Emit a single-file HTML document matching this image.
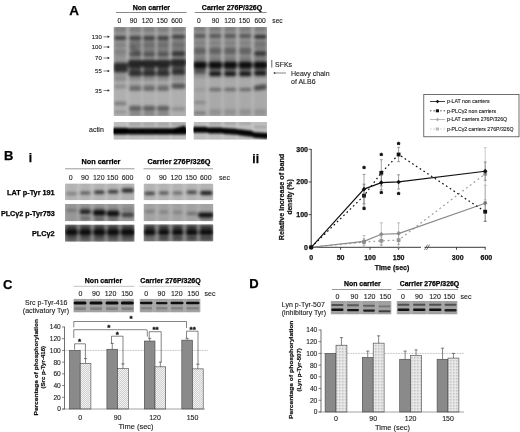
<!DOCTYPE html>
<html><head><meta charset="utf-8"><title>Figure</title>
<style>
html,body{margin:0;padding:0;background:#fff;}
svg{display:block;font-family:"Liberation Sans",sans-serif;}
</style></head><body>
<svg width="520" height="432" viewBox="0 0 520 432">
<defs>
<filter id="b1" x="-5%" y="-20%" width="110%" height="140%"><feGaussianBlur stdDeviation="1.4"/></filter>
<filter id="b2" x="-5%" y="-20%" width="110%" height="140%"><feGaussianBlur stdDeviation="0.9"/></filter>
<filter id="b3" x="-5%" y="-20%" width="110%" height="140%"><feGaussianBlur stdDeviation="0.55"/></filter>
<filter id="tb"><feGaussianBlur stdDeviation="0.25"/></filter>
<pattern id="hatch" width="2" height="2" patternUnits="userSpaceOnUse"><rect width="2" height="2" fill="#f2f2f2"/><path d="M-0.5,2.5 L2.5,-0.5" stroke="#999" stroke-width="0.4"/></pattern>
<pattern id="dots" width="1.5" height="1.5" patternUnits="userSpaceOnUse"><rect width="1.5" height="1.5" fill="#ebebeb"/><rect width="0.6" height="0.6" fill="#999"/></pattern>
</defs>
<rect width="520" height="432" fill="#fff"/>

<text x="69.3" y="14.5" font-size="13.5" font-weight="bold" text-anchor="start" fill="#000" stroke="#000" stroke-width="0.25">A</text>
<text x="151.4" y="9.5" font-size="7" font-weight="bold" text-anchor="middle" fill="#000" stroke="#000" stroke-width="0.25">Non carrier</text>
<text x="232" y="9.5" font-size="7" font-weight="bold" text-anchor="middle" fill="#000" stroke="#000" stroke-width="0.25">Carrier 276P/326Q</text>
<line x1="116" y1="12.5" x2="186.5" y2="12.5" stroke="#555" stroke-width="0.7"/>
<line x1="194.8" y1="12.5" x2="266.5" y2="12.5" stroke="#555" stroke-width="0.7"/>
<text x="119.4" y="22.7" font-size="6.7" text-anchor="middle" fill="#222" stroke="#222" stroke-width="0.12">0</text>
<text x="133.6" y="22.7" font-size="6.7" text-anchor="middle" fill="#222" stroke="#222" stroke-width="0.12">90</text>
<text x="147.4" y="22.7" font-size="6.7" text-anchor="middle" fill="#222" stroke="#222" stroke-width="0.12">120</text>
<text x="162.1" y="22.7" font-size="6.7" text-anchor="middle" fill="#222" stroke="#222" stroke-width="0.12">150</text>
<text x="176.9" y="22.7" font-size="6.7" text-anchor="middle" fill="#222" stroke="#222" stroke-width="0.12">600</text>
<text x="198.8" y="22.7" font-size="6.7" text-anchor="middle" fill="#222" stroke="#222" stroke-width="0.12">0</text>
<text x="215.5" y="22.7" font-size="6.7" text-anchor="middle" fill="#222" stroke="#222" stroke-width="0.12">90</text>
<text x="229.8" y="22.7" font-size="6.7" text-anchor="middle" fill="#222" stroke="#222" stroke-width="0.12">120</text>
<text x="244.4" y="22.7" font-size="6.7" text-anchor="middle" fill="#222" stroke="#222" stroke-width="0.12">150</text>
<text x="260.2" y="22.7" font-size="6.7" text-anchor="middle" fill="#222" stroke="#222" stroke-width="0.12">600</text>
<text x="272.3" y="22.7" font-size="6.7" text-anchor="start" fill="#222" stroke="#222" stroke-width="0.12">sec</text>
<text x="101.8" y="38.9" font-size="6" text-anchor="end" fill="#222" stroke="#222" stroke-width="0.12">130</text>
<line x1="103.5" y1="36.8" x2="108.5" y2="36.8" stroke="#333" stroke-width="0.6"/>
<path d="M109.8,36.8 l-2.2,-1.2 v2.4z" fill="#222"/>
<text x="101.8" y="49.1" font-size="6" text-anchor="end" fill="#222" stroke="#222" stroke-width="0.12">100</text>
<line x1="103.5" y1="47" x2="108.5" y2="47" stroke="#333" stroke-width="0.6"/>
<path d="M109.8,47 l-2.2,-1.2 v2.4z" fill="#222"/>
<text x="101.8" y="60.1" font-size="6" text-anchor="end" fill="#222" stroke="#222" stroke-width="0.12">70</text>
<line x1="103.5" y1="58" x2="108.5" y2="58" stroke="#333" stroke-width="0.6"/>
<path d="M109.8,58 l-2.2,-1.2 v2.4z" fill="#222"/>
<text x="101.8" y="73.1" font-size="6" text-anchor="end" fill="#222" stroke="#222" stroke-width="0.12">55</text>
<line x1="103.5" y1="71" x2="108.5" y2="71" stroke="#333" stroke-width="0.6"/>
<path d="M109.8,71 l-2.2,-1.2 v2.4z" fill="#222"/>
<text x="101.8" y="92.6" font-size="6" text-anchor="end" fill="#222" stroke="#222" stroke-width="0.12">35</text>
<line x1="103.5" y1="90.5" x2="108.5" y2="90.5" stroke="#333" stroke-width="0.6"/>
<path d="M109.8,90.5 l-2.2,-1.2 v2.4z" fill="#222"/>
<clipPath id="c1"><rect x="113.5" y="27" width="72.5" height="89"/></clipPath>
<g clip-path="url(#c1)">
<rect x="113.50" y="27.00" width="72.50" height="89.00" fill="#bcbcbc"/>
<g filter="url(#b1)">
<rect x="114.00" y="24.00" width="12.60" height="56.00" fill="#000" opacity="0.22"/>
<rect x="114.00" y="80.00" width="12.60" height="39.00" fill="#000" opacity="0.07"/>
<rect x="129.00" y="24.00" width="12.50" height="56.00" fill="#000" opacity="0.22"/>
<rect x="129.00" y="80.00" width="12.50" height="39.00" fill="#000" opacity="0.07"/>
<rect x="143.00" y="24.00" width="12.40" height="56.00" fill="#000" opacity="0.22"/>
<rect x="143.00" y="80.00" width="12.40" height="39.00" fill="#000" opacity="0.07"/>
<rect x="157.00" y="24.00" width="12.30" height="56.00" fill="#000" opacity="0.22"/>
<rect x="157.00" y="80.00" width="12.30" height="39.00" fill="#000" opacity="0.07"/>
<rect x="171.50" y="24.00" width="14.00" height="56.00" fill="#000" opacity="0.22"/>
<rect x="171.50" y="80.00" width="14.00" height="39.00" fill="#000" opacity="0.07"/>
<rect x="114.00" y="28.00" width="12.60" height="3.00" rx="1.50" fill="#000" opacity="0.2"/>
<rect x="129.00" y="28.00" width="12.50" height="3.00" rx="1.50" fill="#000" opacity="0.2"/>
<rect x="143.00" y="28.00" width="12.40" height="3.00" rx="1.50" fill="#000" opacity="0.2"/>
<rect x="157.00" y="28.00" width="12.30" height="3.00" rx="1.50" fill="#000" opacity="0.2"/>
<rect x="171.50" y="28.00" width="14.00" height="3.00" rx="1.50" fill="#000" opacity="0.2"/>
<rect x="114.00" y="36.20" width="12.60" height="3.60" rx="1.80" fill="#000" opacity="0.62"/>
<rect x="129.00" y="36.20" width="12.50" height="3.60" rx="1.80" fill="#000" opacity="0.62"/>
<rect x="143.00" y="36.20" width="12.40" height="3.60" rx="1.80" fill="#000" opacity="0.62"/>
<rect x="157.00" y="36.20" width="12.30" height="3.60" rx="1.80" fill="#000" opacity="0.62"/>
<rect x="171.50" y="34.90" width="14.00" height="3.60" rx="1.80" fill="#000" opacity="0.62"/>
<rect x="129.00" y="40.00" width="12.50" height="14.00" rx="2.00" fill="#000" opacity="0.16"/>
<rect x="143.00" y="40.00" width="12.40" height="14.00" rx="2.00" fill="#000" opacity="0.16"/>
<rect x="157.00" y="40.00" width="12.30" height="14.00" rx="2.00" fill="#000" opacity="0.16"/>
<rect x="171.50" y="40.00" width="14.00" height="14.00" rx="2.00" fill="#000" opacity="0.16"/>
<rect x="129.00" y="47.50" width="12.50" height="5.00" rx="2.00" fill="#000" opacity="0.18" transform="rotate(40 135.25 50.00)"/>
<rect x="114.00" y="43.50" width="12.60" height="3.00" rx="1.50" fill="#000" opacity="0.15"/>
<rect x="129.00" y="43.50" width="12.50" height="3.00" rx="1.50" fill="#000" opacity="0.15"/>
<rect x="143.00" y="43.50" width="12.40" height="3.00" rx="1.50" fill="#000" opacity="0.15"/>
<rect x="157.00" y="43.50" width="12.30" height="3.00" rx="1.50" fill="#000" opacity="0.15"/>
<rect x="171.50" y="43.50" width="14.00" height="3.00" rx="1.50" fill="#000" opacity="0.15"/>
<rect x="129.00" y="52.25" width="12.50" height="4.50" rx="2.00" fill="#000" opacity="0.4"/>
<rect x="143.00" y="52.25" width="12.40" height="4.50" rx="2.00" fill="#000" opacity="0.4"/>
<rect x="157.00" y="52.25" width="12.30" height="4.50" rx="2.00" fill="#000" opacity="0.4"/>
<rect x="171.50" y="51.50" width="14.00" height="5.00" rx="2.00" fill="#000" opacity="0.6"/>
<rect x="114.00" y="49.50" width="12.60" height="5.00" rx="2.00" fill="#000" opacity="0.12"/>
<rect x="113.50" y="62.75" width="14.60" height="9.50" rx="2.00" fill="#000" opacity="0.7"/>
<rect x="128.00" y="59.75" width="14.90" height="7.50" rx="2.00" fill="#000" opacity="0.74"/>
<rect x="142.00" y="59.75" width="14.80" height="7.50" rx="2.00" fill="#000" opacity="0.74"/>
<rect x="156.00" y="59.75" width="14.70" height="7.50" rx="2.00" fill="#000" opacity="0.74"/>
<rect x="170.70" y="59.00" width="15.80" height="7.00" rx="2.00" fill="#000" opacity="0.74"/>
<rect x="128.50" y="70.75" width="13.50" height="5.50" rx="2.00" fill="#000" opacity="0.68"/>
<rect x="142.50" y="70.75" width="13.40" height="5.50" rx="2.00" fill="#000" opacity="0.68"/>
<rect x="156.50" y="70.75" width="13.30" height="5.50" rx="2.00" fill="#000" opacity="0.68"/>
<rect x="171.50" y="70.00" width="14.00" height="5.00" rx="2.00" fill="#000" opacity="0.65"/>
<rect x="129.00" y="66.00" width="12.50" height="5.00" rx="2.00" fill="#000" opacity="0.5"/>
<rect x="143.00" y="66.00" width="12.40" height="5.00" rx="2.00" fill="#000" opacity="0.5"/>
<rect x="157.00" y="66.00" width="12.30" height="5.00" rx="2.00" fill="#000" opacity="0.5"/>
<rect x="171.50" y="66.00" width="14.00" height="5.00" rx="2.00" fill="#000" opacity="0.5"/>
<rect x="114.00" y="84.50" width="12.60" height="4.00" rx="2.00" fill="#000" opacity="0.2"/>
<rect x="129.00" y="86.70" width="12.50" height="4.00" rx="2.00" fill="#000" opacity="0.42"/>
<rect x="143.00" y="86.70" width="12.40" height="4.00" rx="2.00" fill="#000" opacity="0.42"/>
<rect x="157.00" y="86.70" width="12.30" height="4.00" rx="2.00" fill="#000" opacity="0.42"/>
<rect x="129.00" y="84.00" width="12.50" height="3.00" rx="1.50" fill="#000" opacity="0.2"/>
<rect x="143.00" y="84.00" width="12.40" height="3.00" rx="1.50" fill="#000" opacity="0.2"/>
<rect x="157.00" y="84.00" width="12.30" height="3.00" rx="1.50" fill="#000" opacity="0.2"/>
<rect x="171.50" y="83.25" width="14.00" height="5.50" rx="2.00" fill="#000" opacity="0.5"/>
<rect x="114.00" y="78.50" width="12.60" height="3.00" rx="1.50" fill="#000" opacity="0.12"/>
<rect x="129.00" y="78.50" width="12.50" height="3.00" rx="1.50" fill="#000" opacity="0.12"/>
<rect x="143.00" y="78.50" width="12.40" height="3.00" rx="1.50" fill="#000" opacity="0.12"/>
<rect x="157.00" y="78.50" width="12.30" height="3.00" rx="1.50" fill="#000" opacity="0.12"/>
<rect x="171.50" y="78.50" width="14.00" height="3.00" rx="1.50" fill="#000" opacity="0.12"/>
<rect x="114.00" y="101.75" width="12.60" height="3.50" rx="1.75" fill="#000" opacity="0.3"/>
<rect x="114.00" y="110.75" width="12.60" height="2.50" rx="1.25" fill="#000" opacity="0.2"/>
<rect x="129.00" y="105.75" width="12.50" height="5.50" rx="2.00" fill="#000" opacity="0.45"/>
<rect x="143.00" y="105.75" width="12.40" height="5.50" rx="2.00" fill="#000" opacity="0.45"/>
<rect x="157.00" y="105.75" width="12.30" height="5.50" rx="2.00" fill="#000" opacity="0.45"/>
<rect x="129.00" y="112.75" width="12.50" height="2.50" rx="1.25" fill="#000" opacity="0.35"/>
<rect x="143.00" y="112.75" width="12.40" height="2.50" rx="1.25" fill="#000" opacity="0.35"/>
<rect x="157.00" y="112.75" width="12.30" height="2.50" rx="1.25" fill="#000" opacity="0.35"/>
<rect x="171.50" y="107.00" width="14.00" height="4.00" rx="2.00" fill="#000" opacity="0.18"/>

</g></g>
<clipPath id="c2"><rect x="193.5" y="27" width="73.5" height="89"/></clipPath>
<g clip-path="url(#c2)">
<rect x="193.50" y="27.00" width="73.50" height="89.00" fill="#b6b6b6"/>
<g filter="url(#b1)">
<rect x="193.80" y="24.00" width="12.20" height="54.00" fill="#000" opacity="0.2"/>
<rect x="193.80" y="78.00" width="12.20" height="41.00" fill="#000" opacity="0.07"/>
<rect x="209.00" y="24.00" width="12.50" height="54.00" fill="#000" opacity="0.2"/>
<rect x="209.00" y="78.00" width="12.50" height="41.00" fill="#000" opacity="0.07"/>
<rect x="224.00" y="24.00" width="12.30" height="54.00" fill="#000" opacity="0.2"/>
<rect x="224.00" y="78.00" width="12.30" height="41.00" fill="#000" opacity="0.07"/>
<rect x="239.00" y="24.00" width="12.50" height="54.00" fill="#000" opacity="0.2"/>
<rect x="239.00" y="78.00" width="12.50" height="41.00" fill="#000" opacity="0.07"/>
<rect x="254.00" y="24.00" width="12.70" height="54.00" fill="#000" opacity="0.2"/>
<rect x="254.00" y="78.00" width="12.70" height="41.00" fill="#000" opacity="0.07"/>
<rect x="193.80" y="27.50" width="12.20" height="3.00" rx="1.50" fill="#000" opacity="0.2"/>
<rect x="209.00" y="27.50" width="12.50" height="3.00" rx="1.50" fill="#000" opacity="0.2"/>
<rect x="224.00" y="27.50" width="12.30" height="3.00" rx="1.50" fill="#000" opacity="0.2"/>
<rect x="239.00" y="27.50" width="12.50" height="3.00" rx="1.50" fill="#000" opacity="0.2"/>
<rect x="254.00" y="27.50" width="12.70" height="3.00" rx="1.50" fill="#000" opacity="0.2"/>
<rect x="193.80" y="34.30" width="12.20" height="3.40" rx="1.70" fill="#000" opacity="0.45"/>
<rect x="209.00" y="34.30" width="12.50" height="3.40" rx="1.70" fill="#000" opacity="0.45"/>
<rect x="224.00" y="34.30" width="12.30" height="3.40" rx="1.70" fill="#000" opacity="0.45"/>
<rect x="239.00" y="34.30" width="12.50" height="3.40" rx="1.70" fill="#000" opacity="0.45"/>
<rect x="254.00" y="34.90" width="12.70" height="3.60" rx="1.80" fill="#000" opacity="0.7"/>
<rect x="193.80" y="41.50" width="12.20" height="3.00" rx="1.50" fill="#000" opacity="0.15"/>
<rect x="209.00" y="41.50" width="12.50" height="3.00" rx="1.50" fill="#000" opacity="0.15"/>
<rect x="224.00" y="41.50" width="12.30" height="3.00" rx="1.50" fill="#000" opacity="0.15"/>
<rect x="239.00" y="41.50" width="12.50" height="3.00" rx="1.50" fill="#000" opacity="0.15"/>
<rect x="254.00" y="41.50" width="12.70" height="3.00" rx="1.50" fill="#000" opacity="0.15"/>
<rect x="193.80" y="47.50" width="12.20" height="7.00" rx="2.00" fill="#000" opacity="0.32"/>
<rect x="209.00" y="47.50" width="12.50" height="7.00" rx="2.00" fill="#000" opacity="0.32"/>
<rect x="224.00" y="47.50" width="12.30" height="7.00" rx="2.00" fill="#000" opacity="0.32"/>
<rect x="239.00" y="47.50" width="12.50" height="7.00" rx="2.00" fill="#000" opacity="0.32"/>
<rect x="254.00" y="51.25" width="12.70" height="4.50" rx="2.00" fill="#000" opacity="0.65"/>
<rect x="254.00" y="42.00" width="12.70" height="8.00" rx="2.00" fill="#000" opacity="0.15"/>
<rect x="193.30" y="61.50" width="13.50" height="7.00" rx="2.00" fill="#000" opacity="0.9"/>
<rect x="208.50" y="61.50" width="13.80" height="7.00" rx="2.00" fill="#000" opacity="0.9"/>
<rect x="223.50" y="61.50" width="13.60" height="7.00" rx="2.00" fill="#000" opacity="0.9"/>
<rect x="238.50" y="61.50" width="13.80" height="7.00" rx="2.00" fill="#000" opacity="0.9"/>
<rect x="253.50" y="61.50" width="14.00" height="7.00" rx="2.00" fill="#000" opacity="0.9"/>
<rect x="193.80" y="70.60" width="12.20" height="2.80" rx="1.40" fill="#000" opacity="0.5"/>
<rect x="209.00" y="71.45" width="12.50" height="4.50" rx="2.00" fill="#000" opacity="0.85"/>
<rect x="224.00" y="71.45" width="12.30" height="4.50" rx="2.00" fill="#000" opacity="0.85"/>
<rect x="239.00" y="71.45" width="12.50" height="4.50" rx="2.00" fill="#000" opacity="0.85"/>
<rect x="254.00" y="70.95" width="12.70" height="4.50" rx="2.00" fill="#000" opacity="0.85"/>
<rect x="193.80" y="68.00" width="12.20" height="3.00" rx="1.50" fill="#000" opacity="0.3"/>
<rect x="209.00" y="68.00" width="12.50" height="3.00" rx="1.50" fill="#000" opacity="0.3"/>
<rect x="224.00" y="68.00" width="12.30" height="3.00" rx="1.50" fill="#000" opacity="0.3"/>
<rect x="239.00" y="68.00" width="12.50" height="3.00" rx="1.50" fill="#000" opacity="0.3"/>
<rect x="254.00" y="68.00" width="12.70" height="3.00" rx="1.50" fill="#000" opacity="0.3"/>
<rect x="193.80" y="57.00" width="12.20" height="3.00" rx="1.50" fill="#000" opacity="0.2"/>
<rect x="209.00" y="57.00" width="12.50" height="3.00" rx="1.50" fill="#000" opacity="0.2"/>
<rect x="224.00" y="57.00" width="12.30" height="3.00" rx="1.50" fill="#000" opacity="0.2"/>
<rect x="239.00" y="57.00" width="12.50" height="3.00" rx="1.50" fill="#000" opacity="0.2"/>
<rect x="254.00" y="57.00" width="12.70" height="3.00" rx="1.50" fill="#000" opacity="0.2"/>
<rect x="193.80" y="88.50" width="12.20" height="2.00" rx="1.00" fill="#000" opacity="0.15"/>
<rect x="209.00" y="87.90" width="12.50" height="3.20" rx="1.60" fill="#000" opacity="0.4"/>
<rect x="224.00" y="87.90" width="12.30" height="3.20" rx="1.60" fill="#000" opacity="0.4"/>
<rect x="239.00" y="87.90" width="12.50" height="3.20" rx="1.60" fill="#000" opacity="0.4"/>
<rect x="254.00" y="84.75" width="12.70" height="5.50" rx="2.00" fill="#000" opacity="0.55" transform="rotate(-8 260.35 87.50)"/>
<rect x="193.80" y="101.00" width="12.20" height="3.00" rx="1.50" fill="#000" opacity="0.2"/>
<rect x="193.80" y="111.75" width="12.20" height="2.50" rx="1.25" fill="#000" opacity="0.35"/>
<rect x="209.00" y="109.50" width="12.50" height="2.00" rx="1.00" fill="#000" opacity="0.2"/>
<rect x="224.00" y="109.50" width="12.30" height="2.00" rx="1.00" fill="#000" opacity="0.2"/>
<rect x="239.00" y="109.50" width="12.50" height="2.00" rx="1.00" fill="#000" opacity="0.2"/>
<rect x="254.00" y="109.50" width="12.70" height="2.00" rx="1.00" fill="#000" opacity="0.2"/>
<rect x="209.00" y="112.50" width="12.50" height="2.00" rx="1.00" fill="#000" opacity="0.22"/>
<rect x="224.00" y="112.50" width="12.30" height="2.00" rx="1.00" fill="#000" opacity="0.22"/>
<rect x="239.00" y="112.50" width="12.50" height="2.00" rx="1.00" fill="#000" opacity="0.22"/>
<rect x="254.00" y="112.50" width="12.70" height="2.00" rx="1.00" fill="#000" opacity="0.22"/>

</g></g>
<text x="89" y="132" font-size="7" text-anchor="start" fill="#222" stroke="#222" stroke-width="0.12">actin</text>
<clipPath id="c3"><rect x="113.5" y="122" width="72.5" height="17.69999999999999"/></clipPath>
<g clip-path="url(#c3)">
<rect x="113.50" y="122.00" width="72.50" height="17.70" fill="#c6c6c6"/>
<g filter="url(#b2)">
<rect x="114.00" y="119.00" width="12.60" height="23.70" fill="#000" opacity="0.05"/>
<rect x="129.00" y="119.00" width="12.50" height="23.70" fill="#000" opacity="0.05"/>
<rect x="143.00" y="119.00" width="12.40" height="23.70" fill="#000" opacity="0.05"/>
<rect x="157.00" y="119.00" width="12.30" height="23.70" fill="#000" opacity="0.05"/>
<rect x="171.50" y="119.00" width="14.00" height="23.70" fill="#000" opacity="0.05"/>
<rect x="112.00" y="128.15" width="16.60" height="6.30" rx="2.00" fill="#000" opacity="0.97"/>
<rect x="127.00" y="128.15" width="16.50" height="6.30" rx="2.00" fill="#000" opacity="0.97"/>
<rect x="141.00" y="128.15" width="16.40" height="6.30" rx="2.00" fill="#000" opacity="0.97"/>
<rect x="155.00" y="128.15" width="16.30" height="6.30" rx="2.00" fill="#000" opacity="0.97"/>
<rect x="169.50" y="128.15" width="18.00" height="6.30" rx="2.00" fill="#000" opacity="0.97"/>
<rect x="112.00" y="127.65" width="16.60" height="6.30" rx="2.00" fill="#000" opacity="0.9"/>
<rect x="173.50" y="126.85" width="13.00" height="5.50" rx="2.00" fill="#000" opacity="0.95" transform="rotate(-14 180.00 129.60)"/>
<rect x="129.00" y="123.80" width="12.50" height="0.80" rx="0.40" fill="#000" opacity="0.45"/>
<rect x="143.00" y="123.80" width="12.40" height="0.80" rx="0.40" fill="#000" opacity="0.45"/>
<rect x="157.00" y="123.80" width="12.30" height="0.80" rx="0.40" fill="#000" opacity="0.45"/>
<rect x="171.50" y="123.80" width="14.00" height="0.80" rx="0.40" fill="#000" opacity="0.45"/>

</g></g>
<clipPath id="c4"><rect x="193.5" y="122" width="73.5" height="17.69999999999999"/></clipPath>
<g clip-path="url(#c4)">
<rect x="193.50" y="122.00" width="73.50" height="17.70" fill="#c6c6c6"/>
<g filter="url(#b2)">
<rect x="193.80" y="119.00" width="12.20" height="23.70" fill="#000" opacity="0.05"/>
<rect x="209.00" y="119.00" width="12.50" height="23.70" fill="#000" opacity="0.05"/>
<rect x="224.00" y="119.00" width="12.30" height="23.70" fill="#000" opacity="0.05"/>
<rect x="239.00" y="119.00" width="12.50" height="23.70" fill="#000" opacity="0.05"/>
<rect x="254.00" y="119.00" width="12.70" height="23.70" fill="#000" opacity="0.05"/>
<rect x="191.80" y="126.70" width="16.20" height="6.00" rx="2.00" fill="#000" opacity="0.97"/>
<rect x="207.00" y="127.40" width="16.50" height="6.00" rx="2.00" fill="#000" opacity="0.97"/>
<rect x="222.00" y="128.40" width="16.30" height="6.00" rx="2.00" fill="#000" opacity="0.97" transform="rotate(4 230.15 131.40)"/>
<rect x="237.00" y="130.00" width="16.50" height="6.00" rx="2.00" fill="#000" opacity="0.97" transform="rotate(6 245.25 133.00)"/>
<rect x="252.00" y="132.60" width="16.70" height="5.60" rx="2.00" fill="#000" opacity="0.97" transform="rotate(4 260.35 135.40)"/>
<rect x="209.00" y="122.90" width="12.50" height="0.80" rx="0.40" fill="#000" opacity="0.35"/>
<rect x="224.00" y="122.90" width="12.30" height="0.80" rx="0.40" fill="#000" opacity="0.35"/>
<rect x="239.00" y="122.90" width="12.50" height="0.80" rx="0.40" fill="#000" opacity="0.35"/>
<rect x="254.00" y="126.60" width="12.70" height="0.80" rx="0.40" fill="#000" opacity="0.3"/>

</g></g>
<line x1="271.8" y1="60" x2="271.8" y2="67.5" stroke="#222" stroke-width="0.7"/>
<text x="275" y="66.5" font-size="7" text-anchor="start" fill="#222" stroke="#222" stroke-width="0.12">SFKs</text>
<line x1="274" y1="73" x2="286" y2="73" stroke="#333" stroke-width="0.6"/>
<path d="M273.2,73 l2,-1.1 v2.2z" fill="#222"/>
<text x="291" y="75.5" font-size="7" text-anchor="start" fill="#222" stroke="#222" stroke-width="0.12">Heavy chain</text>
<text x="291" y="84" font-size="7" text-anchor="start" fill="#222" stroke="#222" stroke-width="0.12">of ALB6</text>
<text x="4" y="159.7" font-size="13" font-weight="bold" text-anchor="start" fill="#000" stroke="#000" stroke-width="0.25">B</text>
<text x="28.7" y="161.5" font-size="12" font-weight="bold" text-anchor="start" fill="#000" stroke="#000" stroke-width="0.25">i</text>
<text x="252.3" y="162.7" font-size="12" font-weight="bold" text-anchor="start" fill="#000" stroke="#000" stroke-width="0.25">ii</text>
<text x="101" y="163.7" font-size="7.3" font-weight="bold" text-anchor="middle" fill="#000" stroke="#000" stroke-width="0.25">Non carrier</text>
<text x="179" y="163.7" font-size="7.3" font-weight="bold" text-anchor="middle" fill="#000" stroke="#000" stroke-width="0.25">Carrier 276P/326Q</text>
<line x1="65" y1="168.8" x2="134.5" y2="168.8" stroke="#555" stroke-width="0.6"/>
<line x1="143.5" y1="168.8" x2="213" y2="168.8" stroke="#555" stroke-width="0.6"/>
<text x="70.8" y="180" font-size="7" text-anchor="middle" fill="#222" stroke="#222" stroke-width="0.12">0</text>
<text x="85" y="180" font-size="7" text-anchor="middle" fill="#222" stroke="#222" stroke-width="0.12">90</text>
<text x="98.8" y="180" font-size="7" text-anchor="middle" fill="#222" stroke="#222" stroke-width="0.12">120</text>
<text x="112.5" y="180" font-size="7" text-anchor="middle" fill="#222" stroke="#222" stroke-width="0.12">150</text>
<text x="127.5" y="180" font-size="7" text-anchor="middle" fill="#222" stroke="#222" stroke-width="0.12">600</text>
<text x="148.5" y="180" font-size="7" text-anchor="middle" fill="#222" stroke="#222" stroke-width="0.12">0</text>
<text x="162.8" y="180" font-size="7" text-anchor="middle" fill="#222" stroke="#222" stroke-width="0.12">90</text>
<text x="176.3" y="180" font-size="7" text-anchor="middle" fill="#222" stroke="#222" stroke-width="0.12">120</text>
<text x="191" y="180" font-size="7" text-anchor="middle" fill="#222" stroke="#222" stroke-width="0.12">150</text>
<text x="205.8" y="180" font-size="7" text-anchor="middle" fill="#222" stroke="#222" stroke-width="0.12">600</text>
<text x="219" y="180" font-size="7" text-anchor="start" fill="#222" stroke="#222" stroke-width="0.12">sec</text>
<text x="54.7" y="195" font-size="7.3" font-weight="bold" text-anchor="end" fill="#000" stroke="#000" stroke-width="0.25">LAT p-Tyr 191</text>
<text x="54.7" y="215.5" font-size="7.2" font-weight="bold" text-anchor="end" fill="#000" stroke="#000" stroke-width="0.25">PLCγ2 p-Tyr753</text>
<text x="54.7" y="236.3" font-size="7.3" font-weight="bold" text-anchor="end" fill="#000" stroke="#000" stroke-width="0.25">PLCγ2</text>
<clipPath id="c5"><rect x="65" y="183.4" width="69.6" height="16.799999999999983"/></clipPath>
<g clip-path="url(#c5)">
<rect x="65.00" y="183.40" width="69.60" height="16.80" fill="#c2c2c2"/>
<g filter="url(#b1)">
<rect x="66.00" y="180.40" width="11.00" height="22.80" fill="#000" opacity="0.08"/>
<rect x="80.00" y="180.40" width="10.50" height="22.80" fill="#000" opacity="0.08"/>
<rect x="94.00" y="180.40" width="10.60" height="22.80" fill="#000" opacity="0.08"/>
<rect x="107.70" y="180.40" width="10.80" height="22.80" fill="#000" opacity="0.08"/>
<rect x="121.50" y="180.40" width="12.50" height="22.80" fill="#000" opacity="0.08"/>
<rect x="66.00" y="192.60" width="11.00" height="2.20" rx="1.10" fill="#000" opacity="0.4"/>
<rect x="80.00" y="191.70" width="10.50" height="2.60" rx="1.30" fill="#000" opacity="0.6"/>
<rect x="94.00" y="190.80" width="10.60" height="3.00" rx="1.50" fill="#000" opacity="0.8"/>
<rect x="107.70" y="190.30" width="10.80" height="3.00" rx="1.50" fill="#000" opacity="0.8"/>
<rect x="121.50" y="188.60" width="12.50" height="4.00" rx="2.00" fill="#000" opacity="0.8"/>

</g></g>
<clipPath id="c6"><rect x="143.5" y="183.6" width="69.9" height="16.700000000000017"/></clipPath>
<g clip-path="url(#c6)">
<rect x="143.50" y="183.60" width="69.90" height="16.70" fill="#c2c2c2"/>
<g filter="url(#b1)">
<rect x="144.50" y="180.60" width="10.50" height="22.70" fill="#000" opacity="0.08"/>
<rect x="158.80" y="180.60" width="10.00" height="22.70" fill="#000" opacity="0.08"/>
<rect x="172.60" y="180.60" width="10.00" height="22.70" fill="#000" opacity="0.08"/>
<rect x="186.50" y="180.60" width="10.50" height="22.70" fill="#000" opacity="0.08"/>
<rect x="200.00" y="180.60" width="12.60" height="22.70" fill="#000" opacity="0.08"/>
<rect x="144.50" y="192.00" width="10.50" height="2.80" rx="1.40" fill="#000" opacity="0.75"/>
<rect x="158.80" y="191.70" width="10.00" height="2.60" rx="1.30" fill="#000" opacity="0.65"/>
<rect x="172.60" y="191.80" width="10.00" height="2.40" rx="1.20" fill="#000" opacity="0.5"/>
<rect x="186.50" y="190.80" width="10.50" height="3.00" rx="1.50" fill="#000" opacity="0.7"/>
<rect x="200.00" y="191.00" width="12.60" height="4.00" rx="2.00" fill="#000" opacity="0.85"/>

</g></g>
<clipPath id="c7"><rect x="65" y="204" width="69.6" height="17.19999999999999"/></clipPath>
<g clip-path="url(#c7)">
<rect x="65.00" y="204.00" width="69.60" height="17.20" fill="#a8a8a8"/>
<g filter="url(#b1)">
<rect x="66.00" y="201.00" width="11.00" height="23.20" fill="#000" opacity="0.1"/>
<rect x="80.00" y="201.00" width="10.50" height="23.20" fill="#000" opacity="0.1"/>
<rect x="94.00" y="201.00" width="10.60" height="23.20" fill="#000" opacity="0.1"/>
<rect x="107.70" y="201.00" width="10.80" height="23.20" fill="#000" opacity="0.1"/>
<rect x="121.50" y="201.00" width="12.50" height="23.20" fill="#000" opacity="0.1"/>
<rect x="66.00" y="209.20" width="11.00" height="2.20" rx="1.10" fill="#000" opacity="0.3"/>
<rect x="79.50" y="209.55" width="11.50" height="4.50" rx="2.00" fill="#000" opacity="0.8"/>
<rect x="80.00" y="217.05" width="10.50" height="2.50" rx="1.25" fill="#000" opacity="0.4"/>
<rect x="93.00" y="209.80" width="12.60" height="6.00" rx="2.00" fill="#000" opacity="0.9"/>
<rect x="94.00" y="217.75" width="10.60" height="2.50" rx="1.25" fill="#000" opacity="0.5"/>
<rect x="106.70" y="210.60" width="12.80" height="6.00" rx="2.00" fill="#000" opacity="0.9"/>
<rect x="107.70" y="218.20" width="10.80" height="2.20" rx="1.10" fill="#000" opacity="0.45"/>
<rect x="121.50" y="212.45" width="12.50" height="4.50" rx="2.00" fill="#000" opacity="0.6"/>
<rect x="121.50" y="208.00" width="12.50" height="2.00" rx="1.00" fill="#000" opacity="0.2"/>
<rect x="80.00" y="207.00" width="10.50" height="2.00" rx="1.00" fill="#000" opacity="0.15"/>
<rect x="94.00" y="207.00" width="10.60" height="2.00" rx="1.00" fill="#000" opacity="0.15"/>
<rect x="107.70" y="207.00" width="10.80" height="2.00" rx="1.00" fill="#000" opacity="0.15"/>

</g></g>
<clipPath id="c8"><rect x="143.5" y="204" width="69.9" height="17.19999999999999"/></clipPath>
<g clip-path="url(#c8)">
<rect x="143.50" y="204.00" width="69.90" height="17.20" fill="#b0b0b0"/>
<g filter="url(#b1)">
<rect x="144.50" y="201.00" width="10.50" height="23.20" fill="#000" opacity="0.08"/>
<rect x="158.80" y="201.00" width="10.00" height="23.20" fill="#000" opacity="0.08"/>
<rect x="172.60" y="201.00" width="10.00" height="23.20" fill="#000" opacity="0.08"/>
<rect x="186.50" y="201.00" width="10.50" height="23.20" fill="#000" opacity="0.08"/>
<rect x="200.00" y="201.00" width="12.60" height="23.20" fill="#000" opacity="0.08"/>
<rect x="144.50" y="210.40" width="10.50" height="2.20" rx="1.10" fill="#000" opacity="0.35"/>
<rect x="158.80" y="210.90" width="10.00" height="2.20" rx="1.10" fill="#000" opacity="0.3"/>
<rect x="172.60" y="211.20" width="10.00" height="2.20" rx="1.10" fill="#000" opacity="0.28"/>
<rect x="186.50" y="212.30" width="10.50" height="2.40" rx="1.20" fill="#000" opacity="0.4"/>
<rect x="198.00" y="212.50" width="15.60" height="5.00" rx="2.00" fill="#000" opacity="0.9"/>
<rect x="200.00" y="218.50" width="12.60" height="2.00" rx="1.00" fill="#000" opacity="0.35"/>

</g></g>
<clipPath id="c9"><rect x="65" y="224.5" width="69.6" height="17.19999999999999"/></clipPath>
<g clip-path="url(#c9)">
<rect x="65.00" y="224.50" width="69.60" height="17.20" fill="#8e8e8e"/>
<g filter="url(#b1)">
<rect x="66.00" y="221.50" width="11.00" height="23.20" fill="#000" opacity="0.15"/>
<rect x="80.00" y="221.50" width="10.50" height="23.20" fill="#000" opacity="0.15"/>
<rect x="94.00" y="221.50" width="10.60" height="23.20" fill="#000" opacity="0.15"/>
<rect x="107.70" y="221.50" width="10.80" height="23.20" fill="#000" opacity="0.15"/>
<rect x="121.50" y="221.50" width="12.50" height="23.20" fill="#000" opacity="0.15"/>
<rect x="65.20" y="229.00" width="12.60" height="6.40" rx="2.00" fill="#000" opacity="0.9"/>
<rect x="79.20" y="229.00" width="12.10" height="6.40" rx="2.00" fill="#000" opacity="0.9"/>
<rect x="93.20" y="229.00" width="12.20" height="6.40" rx="2.00" fill="#000" opacity="0.9"/>
<rect x="106.90" y="229.00" width="12.40" height="6.40" rx="2.00" fill="#000" opacity="0.9"/>
<rect x="120.70" y="229.00" width="14.10" height="6.40" rx="2.00" fill="#000" opacity="0.9"/>
<rect x="66.00" y="226.10" width="11.00" height="2.20" rx="1.10" fill="#000" opacity="0.68"/>
<rect x="80.00" y="226.10" width="10.50" height="2.20" rx="1.10" fill="#000" opacity="0.68"/>
<rect x="94.00" y="226.10" width="10.60" height="2.20" rx="1.10" fill="#000" opacity="0.68"/>
<rect x="107.70" y="226.10" width="10.80" height="2.20" rx="1.10" fill="#000" opacity="0.68"/>
<rect x="121.50" y="226.10" width="12.50" height="2.20" rx="1.10" fill="#000" opacity="0.68"/>
<rect x="66.00" y="236.60" width="11.00" height="2.20" rx="1.10" fill="#000" opacity="0.5"/>
<rect x="80.00" y="236.60" width="10.50" height="2.20" rx="1.10" fill="#000" opacity="0.5"/>
<rect x="94.00" y="236.60" width="10.60" height="2.20" rx="1.10" fill="#000" opacity="0.5"/>
<rect x="107.70" y="236.60" width="10.80" height="2.20" rx="1.10" fill="#000" opacity="0.5"/>
<rect x="121.50" y="236.60" width="12.50" height="2.20" rx="1.10" fill="#000" opacity="0.5"/>
<rect x="66.00" y="239.55" width="11.00" height="1.50" rx="0.75" fill="#000" opacity="0.25"/>
<rect x="80.00" y="239.55" width="10.50" height="1.50" rx="0.75" fill="#000" opacity="0.25"/>
<rect x="94.00" y="239.55" width="10.60" height="1.50" rx="0.75" fill="#000" opacity="0.25"/>
<rect x="107.70" y="239.55" width="10.80" height="1.50" rx="0.75" fill="#000" opacity="0.25"/>
<rect x="121.50" y="239.55" width="12.50" height="1.50" rx="0.75" fill="#000" opacity="0.25"/>

</g></g>
<clipPath id="c10"><rect x="143.5" y="224.3" width="69.9" height="17.19999999999999"/></clipPath>
<g clip-path="url(#c10)">
<rect x="143.50" y="224.30" width="69.90" height="17.20" fill="#8e8e8e"/>
<g filter="url(#b1)">
<rect x="144.50" y="221.30" width="10.50" height="23.20" fill="#000" opacity="0.15"/>
<rect x="158.80" y="221.30" width="10.00" height="23.20" fill="#000" opacity="0.15"/>
<rect x="172.60" y="221.30" width="10.00" height="23.20" fill="#000" opacity="0.15"/>
<rect x="186.50" y="221.30" width="10.50" height="23.20" fill="#000" opacity="0.15"/>
<rect x="200.00" y="221.30" width="12.60" height="23.20" fill="#000" opacity="0.15"/>
<rect x="143.90" y="229.20" width="11.70" height="6.00" rx="2.00" fill="#000" opacity="0.9"/>
<rect x="158.20" y="229.20" width="11.20" height="6.00" rx="2.00" fill="#000" opacity="0.9"/>
<rect x="172.00" y="229.20" width="11.20" height="6.00" rx="2.00" fill="#000" opacity="0.9"/>
<rect x="185.90" y="229.20" width="11.70" height="6.00" rx="2.00" fill="#000" opacity="0.9"/>
<rect x="199.40" y="229.20" width="13.80" height="6.00" rx="2.00" fill="#000" opacity="0.9"/>
<rect x="144.50" y="226.00" width="10.50" height="2.40" rx="1.20" fill="#000" opacity="0.72"/>
<rect x="158.80" y="226.00" width="10.00" height="2.40" rx="1.20" fill="#000" opacity="0.72"/>
<rect x="172.60" y="226.00" width="10.00" height="2.40" rx="1.20" fill="#000" opacity="0.72"/>
<rect x="186.50" y="226.00" width="10.50" height="2.40" rx="1.20" fill="#000" opacity="0.72"/>
<rect x="200.00" y="226.00" width="12.60" height="2.40" rx="1.20" fill="#000" opacity="0.72"/>
<rect x="158.80" y="237.00" width="10.00" height="2.40" rx="1.20" fill="#000" opacity="0.62"/>
<rect x="172.60" y="237.00" width="10.00" height="2.40" rx="1.20" fill="#000" opacity="0.62"/>
<rect x="186.50" y="237.00" width="10.50" height="2.40" rx="1.20" fill="#000" opacity="0.62"/>
<rect x="200.00" y="237.00" width="12.60" height="2.40" rx="1.20" fill="#000" opacity="0.62"/>
<rect x="144.50" y="237.00" width="10.50" height="2.00" rx="1.00" fill="#000" opacity="0.25"/>

</g></g>
<line x1="311.2" y1="149" x2="311.2" y2="247.70000000000002" stroke="#222" stroke-width="0.9"/>
<line x1="310.8" y1="247.3" x2="421" y2="247.3" stroke="#222" stroke-width="0.9"/>
<line x1="424.5" y1="247.3" x2="485.6" y2="247.3" stroke="#222" stroke-width="0.9"/>
<line x1="424.5" y1="250" x2="427.5" y2="244.6" stroke="#222" stroke-width="0.6"/>
<line x1="426.5" y1="250" x2="429.5" y2="244.6" stroke="#222" stroke-width="0.6"/>
<line x1="308.7" y1="247.3" x2="311.2" y2="247.3" stroke="#222" stroke-width="0.8"/>
<text x="308.0" y="249.8" font-size="7" font-weight="bold" text-anchor="end" fill="#111" stroke="#111" stroke-width="0.25">0</text>
<line x1="308.7" y1="214.62" x2="311.2" y2="214.62" stroke="#222" stroke-width="0.8"/>
<text x="308.0" y="217.12" font-size="7" font-weight="bold" text-anchor="end" fill="#111" stroke="#111" stroke-width="0.25">100</text>
<line x1="308.7" y1="181.94" x2="311.2" y2="181.94" stroke="#222" stroke-width="0.8"/>
<text x="308.0" y="184.44" font-size="7" font-weight="bold" text-anchor="end" fill="#111" stroke="#111" stroke-width="0.25">200</text>
<line x1="308.7" y1="149.26000000000002" x2="311.2" y2="149.26000000000002" stroke="#222" stroke-width="0.8"/>
<text x="308.0" y="151.76000000000002" font-size="7" font-weight="bold" text-anchor="end" fill="#111" stroke="#111" stroke-width="0.25">300</text>
<line x1="311.2" y1="247.3" x2="311.2" y2="249.8" stroke="#222" stroke-width="0.8"/>
<text x="311.2" y="260.3" font-size="7" font-weight="bold" text-anchor="middle" fill="#111" stroke="#111" stroke-width="0.25">0</text>
<line x1="340.6" y1="247.3" x2="340.6" y2="249.8" stroke="#222" stroke-width="0.8"/>
<text x="340.6" y="260.3" font-size="7" font-weight="bold" text-anchor="middle" fill="#111" stroke="#111" stroke-width="0.25">50</text>
<line x1="370" y1="247.3" x2="370" y2="249.8" stroke="#222" stroke-width="0.8"/>
<text x="370" y="260.3" font-size="7" font-weight="bold" text-anchor="middle" fill="#111" stroke="#111" stroke-width="0.25">100</text>
<line x1="398.6" y1="247.3" x2="398.6" y2="249.8" stroke="#222" stroke-width="0.8"/>
<text x="398.6" y="260.3" font-size="7" font-weight="bold" text-anchor="middle" fill="#111" stroke="#111" stroke-width="0.25">150</text>
<line x1="456.5" y1="247.3" x2="456.5" y2="249.8" stroke="#222" stroke-width="0.8"/>
<text x="457.7" y="260.3" font-size="7" font-weight="bold" text-anchor="middle" fill="#111" stroke="#111" stroke-width="0.25">300</text>
<line x1="485.2" y1="247.3" x2="485.2" y2="249.8" stroke="#222" stroke-width="0.8"/>
<text x="486.4" y="260.3" font-size="7" font-weight="bold" text-anchor="middle" fill="#111" stroke="#111" stroke-width="0.25">600</text>
<text x="392" y="270.3" font-size="7" font-weight="bold" text-anchor="middle" fill="#111" stroke="#111" stroke-width="0.25">Time (sec)</text>
<text transform="translate(283.6,197) rotate(-90)" font-size="6.6" font-weight="bold" text-anchor="middle" fill="#111" stroke="#111" stroke-width="0.22" textLength="86.5" lengthAdjust="spacingAndGlyphs">Relative increase of band</text>
<text transform="translate(291.6,197) rotate(-90)" font-size="6.6" font-weight="bold" text-anchor="middle" fill="#111" stroke="#111" stroke-width="0.22">density (%)</text>
<polyline points="311.2,247.3 364.0,242.1 381.3,240.8 398.6,240.1 485.2,173.8" fill="none" stroke="#999" stroke-width="1.2" stroke-dasharray="1.8,3"/>
<rect x="309.30" y="245.40" width="3.80" height="3.80" fill="#999"/>
<line x1="364" y1="238.8032" x2="364" y2="245.3392" stroke="#999" stroke-width="0.5"/>
<line x1="362.5" y1="238.8032" x2="365.5" y2="238.8032" stroke="#999" stroke-width="0.5"/>
<line x1="362.5" y1="245.3392" x2="365.5" y2="245.3392" stroke="#999" stroke-width="0.5"/>
<rect x="362.10" y="240.17" width="3.80" height="3.80" fill="#999"/>
<line x1="381.3" y1="236.8424" x2="381.3" y2="244.68560000000002" stroke="#999" stroke-width="0.5"/>
<line x1="379.8" y1="236.8424" x2="382.8" y2="236.8424" stroke="#999" stroke-width="0.5"/>
<line x1="379.8" y1="244.68560000000002" x2="382.8" y2="244.68560000000002" stroke="#999" stroke-width="0.5"/>
<rect x="379.40" y="238.86" width="3.80" height="3.80" fill="#999"/>
<line x1="398.6" y1="231.9404" x2="398.6" y2="248.28040000000001" stroke="#999" stroke-width="0.5"/>
<line x1="397.1" y1="231.9404" x2="400.1" y2="231.9404" stroke="#999" stroke-width="0.5"/>
<line x1="397.1" y1="248.28040000000001" x2="400.1" y2="248.28040000000001" stroke="#999" stroke-width="0.5"/>
<rect x="396.70" y="238.21" width="3.80" height="3.80" fill="#999"/>
<line x1="485.2" y1="147.62600000000003" x2="485.2" y2="199.91400000000002" stroke="#999" stroke-width="0.5"/>
<line x1="483.7" y1="147.62600000000003" x2="486.7" y2="147.62600000000003" stroke="#999" stroke-width="0.5"/>
<line x1="483.7" y1="199.91400000000002" x2="486.7" y2="199.91400000000002" stroke="#999" stroke-width="0.5"/>
<rect x="483.30" y="171.87" width="3.80" height="3.80" fill="#999"/>
<polyline points="311.2,247.3 364.0,241.4 381.3,234.2 398.6,233.6 485.2,203.2" fill="none" stroke="#888" stroke-width="1.15"/>
<path d="M311.2,245.0 l2.3,2.3 l-2.3,2.3 l-2.3,-2.3z" fill="#888"/>
<line x1="364" y1="235.5352" x2="364" y2="247.3" stroke="#888" stroke-width="0.5"/>
<line x1="362.5" y1="235.5352" x2="365.5" y2="235.5352" stroke="#888" stroke-width="0.5"/>
<line x1="362.5" y1="247.3" x2="365.5" y2="247.3" stroke="#888" stroke-width="0.5"/>
<path d="M364,239.1176 l2.3,2.3 l-2.3,2.3 l-2.3,-2.3z" fill="#888"/>
<line x1="381.3" y1="222.79000000000002" x2="381.3" y2="245.66600000000003" stroke="#888" stroke-width="0.5"/>
<line x1="379.8" y1="222.79000000000002" x2="382.8" y2="222.79000000000002" stroke="#888" stroke-width="0.5"/>
<line x1="379.8" y1="245.66600000000003" x2="382.8" y2="245.66600000000003" stroke="#888" stroke-width="0.5"/>
<path d="M381.3,231.928 l2.3,2.3 l-2.3,2.3 l-2.3,-2.3z" fill="#888"/>
<line x1="398.6" y1="222.79000000000002" x2="398.6" y2="244.3588" stroke="#888" stroke-width="0.5"/>
<line x1="397.1" y1="222.79000000000002" x2="400.1" y2="222.79000000000002" stroke="#888" stroke-width="0.5"/>
<line x1="397.1" y1="244.3588" x2="400.1" y2="244.3588" stroke="#888" stroke-width="0.5"/>
<path d="M398.6,231.2744 l2.3,2.3 l-2.3,2.3 l-2.3,-2.3z" fill="#888"/>
<line x1="485.2" y1="185.20800000000003" x2="485.2" y2="221.156" stroke="#888" stroke-width="0.5"/>
<line x1="483.7" y1="185.20800000000003" x2="486.7" y2="185.20800000000003" stroke="#888" stroke-width="0.5"/>
<line x1="483.7" y1="221.156" x2="486.7" y2="221.156" stroke="#888" stroke-width="0.5"/>
<path d="M485.2,200.882 l2.3,2.3 l-2.3,2.3 l-2.3,-2.3z" fill="#888"/>
<polyline points="311.2,247.3 364.0,195.7 381.3,172.8 398.6,154.5 485.2,211.7" fill="none" stroke="#111" stroke-width="1.2" stroke-dasharray="1.7,2.8"/>
<rect x="309.30" y="245.40" width="3.80" height="3.80" fill="#111"/>
<line x1="364" y1="184.22760000000002" x2="364" y2="207.10360000000003" stroke="#444" stroke-width="0.5"/>
<line x1="362.5" y1="184.22760000000002" x2="365.5" y2="184.22760000000002" stroke="#444" stroke-width="0.5"/>
<line x1="362.5" y1="207.10360000000003" x2="365.5" y2="207.10360000000003" stroke="#444" stroke-width="0.5"/>
<rect x="362.10" y="193.77" width="3.80" height="3.80" fill="#111"/>
<line x1="381.3" y1="159.7176" x2="381.3" y2="185.8616" stroke="#444" stroke-width="0.5"/>
<line x1="379.8" y1="159.7176" x2="382.8" y2="159.7176" stroke="#444" stroke-width="0.5"/>
<line x1="379.8" y1="185.8616" x2="382.8" y2="185.8616" stroke="#444" stroke-width="0.5"/>
<rect x="379.40" y="170.89" width="3.80" height="3.80" fill="#111"/>
<line x1="398.6" y1="147.2992" x2="398.6" y2="161.6784" stroke="#444" stroke-width="0.5"/>
<line x1="397.1" y1="147.2992" x2="400.1" y2="147.2992" stroke="#444" stroke-width="0.5"/>
<line x1="397.1" y1="161.6784" x2="400.1" y2="161.6784" stroke="#444" stroke-width="0.5"/>
<rect x="396.70" y="152.59" width="3.80" height="3.80" fill="#111"/>
<line x1="485.2" y1="201.87480000000002" x2="485.2" y2="221.4828" stroke="#444" stroke-width="0.5"/>
<line x1="483.7" y1="201.87480000000002" x2="486.7" y2="201.87480000000002" stroke="#444" stroke-width="0.5"/>
<line x1="483.7" y1="221.4828" x2="486.7" y2="221.4828" stroke="#444" stroke-width="0.5"/>
<rect x="483.30" y="209.78" width="3.80" height="3.80" fill="#111"/>
<polyline points="311.2,247.3 364.0,189.1 381.3,182.6 398.6,181.9 485.2,171.2" fill="none" stroke="#111" stroke-width="1.15"/>
<path d="M311.2,245.0 l2.3,2.3 l-2.3,2.3 l-2.3,-2.3z" fill="#111"/>
<line x1="364" y1="174.42360000000002" x2="364" y2="203.8356" stroke="#444" stroke-width="0.5"/>
<line x1="362.5" y1="174.42360000000002" x2="365.5" y2="174.42360000000002" stroke="#444" stroke-width="0.5"/>
<line x1="362.5" y1="203.8356" x2="365.5" y2="203.8356" stroke="#444" stroke-width="0.5"/>
<path d="M364,186.8296 l2.3,2.3 l-2.3,2.3 l-2.3,-2.3z" fill="#111"/>
<line x1="381.3" y1="175.404" x2="381.3" y2="189.78320000000002" stroke="#444" stroke-width="0.5"/>
<line x1="379.8" y1="175.404" x2="382.8" y2="175.404" stroke="#444" stroke-width="0.5"/>
<line x1="379.8" y1="189.78320000000002" x2="382.8" y2="189.78320000000002" stroke="#444" stroke-width="0.5"/>
<path d="M381.3,180.2936 l2.3,2.3 l-2.3,2.3 l-2.3,-2.3z" fill="#111"/>
<line x1="398.6" y1="174.7504" x2="398.6" y2="189.1296" stroke="#444" stroke-width="0.5"/>
<line x1="397.1" y1="174.7504" x2="400.1" y2="174.7504" stroke="#444" stroke-width="0.5"/>
<line x1="397.1" y1="189.1296" x2="400.1" y2="189.1296" stroke="#444" stroke-width="0.5"/>
<path d="M398.6,179.64 l2.3,2.3 l-2.3,2.3 l-2.3,-2.3z" fill="#111"/>
<line x1="485.2" y1="162.0052" x2="485.2" y2="180.306" stroke="#444" stroke-width="0.5"/>
<line x1="483.7" y1="162.0052" x2="486.7" y2="162.0052" stroke="#444" stroke-width="0.5"/>
<line x1="483.7" y1="180.306" x2="486.7" y2="180.306" stroke="#444" stroke-width="0.5"/>
<path d="M485.2,168.8556 l2.3,2.3 l-2.3,2.3 l-2.3,-2.3z" fill="#111"/>
<text x="364" y="170.83400000000003" font-size="8" font-weight="bold" text-anchor="middle" fill="#111" stroke="#111" stroke-width="0.6">*</text>
<text x="364" y="212.3376" font-size="8" font-weight="bold" text-anchor="middle" fill="#111" stroke="#111" stroke-width="0.6">*</text>
<text x="381.3" y="158.4156" font-size="8" font-weight="bold" text-anchor="middle" fill="#111" stroke="#111" stroke-width="0.6">*</text>
<text x="381.3" y="195.9976" font-size="8" font-weight="bold" text-anchor="middle" fill="#111" stroke="#111" stroke-width="0.6">*</text>
<text x="398.6" y="146.97760000000002" font-size="8" font-weight="bold" text-anchor="middle" fill="#111" stroke="#111" stroke-width="0.6">*</text>
<text x="398.6" y="196.65120000000002" font-size="8" font-weight="bold" text-anchor="middle" fill="#111" stroke="#111" stroke-width="0.6">*</text>
<rect x="423.8" y="94.5" width="95.2" height="42.3" fill="#fff" stroke="#333" stroke-width="0.7"/>
<line x1="430" y1="101.5" x2="445" y2="101.5" stroke="#111" stroke-width="0.8"/>
<path d="M437.5,99.7 l1.8,1.8 l-1.8,1.8 l-1.8,-1.8z" fill="#111"/>
<text x="447" y="103.3" font-size="5.2" text-anchor="start" fill="#222" stroke="#222" stroke-width="0.12">p-LAT non carriers</text>
<line x1="430" y1="110.8" x2="445" y2="110.8" stroke="#111" stroke-width="0.8" stroke-dasharray="1.4,2"/>
<rect x="435.80" y="109.30" width="3.20" height="3.00" fill="#111"/>
<text x="447" y="112.6" font-size="5.2" text-anchor="start" fill="#222" stroke="#222" stroke-width="0.12">p-PLCγ2 non carriers</text>
<line x1="430" y1="119.5" x2="445" y2="119.5" stroke="#aaa" stroke-width="0.8"/>
<path d="M437.5,117.7 l1.8,1.8 l-1.8,1.8 l-1.8,-1.8z" fill="#aaa"/>
<text x="447" y="121.3" font-size="5.2" text-anchor="start" fill="#222" stroke="#222" stroke-width="0.12">p-LAT carriers 276P/326Q</text>
<line x1="430" y1="129" x2="445" y2="129" stroke="#bbb" stroke-width="0.8" stroke-dasharray="1.4,2"/>
<rect x="435.80" y="127.50" width="3.20" height="3.00" fill="#bbb"/>
<text x="447" y="130.8" font-size="5.2" text-anchor="start" fill="#222" stroke="#222" stroke-width="0.12">p-PLCγ2 carriers 276P/326Q</text>
<text x="3" y="289" font-size="13" font-weight="bold" text-anchor="start" fill="#000" stroke="#000" stroke-width="0.25">C</text>
<text x="103.5" y="282.5" font-size="7" font-weight="bold" text-anchor="middle" fill="#000" stroke="#000" stroke-width="0.25">Non carrier</text>
<text x="170.5" y="282.5" font-size="7" font-weight="bold" text-anchor="middle" fill="#000" stroke="#000" stroke-width="0.25">Carrier 276P/326Q</text>
<line x1="73.5" y1="286.3" x2="134.3" y2="286.3" stroke="#999" stroke-width="0.6"/>
<line x1="139.5" y1="286.3" x2="200.5" y2="286.3" stroke="#aaa" stroke-width="0.6"/>
<text x="80.5" y="295.5" font-size="7" text-anchor="middle" fill="#222" stroke="#222" stroke-width="0.12">0</text>
<text x="96" y="295.5" font-size="7" text-anchor="middle" fill="#222" stroke="#222" stroke-width="0.12">90</text>
<text x="110.5" y="295.5" font-size="7" text-anchor="middle" fill="#222" stroke="#222" stroke-width="0.12">120</text>
<text x="127" y="295.5" font-size="7" text-anchor="middle" fill="#222" stroke="#222" stroke-width="0.12">150</text>
<text x="146.3" y="295.5" font-size="7" text-anchor="middle" fill="#222" stroke="#222" stroke-width="0.12">0</text>
<text x="161.5" y="295.5" font-size="7" text-anchor="middle" fill="#222" stroke="#222" stroke-width="0.12">90</text>
<text x="176.8" y="295.5" font-size="7" text-anchor="middle" fill="#222" stroke="#222" stroke-width="0.12">120</text>
<text x="193.2" y="295.5" font-size="7" text-anchor="middle" fill="#222" stroke="#222" stroke-width="0.12">150</text>
<text x="204.5" y="295.5" font-size="7" text-anchor="start" fill="#222" stroke="#222" stroke-width="0.12">sec</text>
<text x="67.5" y="304.5" font-size="7" text-anchor="end" fill="#222" stroke="#222" stroke-width="0.12">Src p-Tyr-416</text>
<text x="69" y="312.7" font-size="7" text-anchor="end" fill="#222" stroke="#222" stroke-width="0.12">(activatory Tyr)</text>
<clipPath id="c11"><rect x="73.3" y="298.7" width="60.7" height="13.800000000000011"/></clipPath>
<g clip-path="url(#c11)">
<rect x="73.30" y="298.70" width="60.70" height="13.80" fill="#a9a9a9"/>
<g filter="url(#b3)">
<rect x="74.00" y="295.70" width="12.00" height="19.80" fill="#000" opacity="0.05"/>
<rect x="90.00" y="295.70" width="12.00" height="19.80" fill="#000" opacity="0.05"/>
<rect x="106.00" y="295.70" width="12.00" height="19.80" fill="#000" opacity="0.05"/>
<rect x="121.30" y="295.70" width="12.00" height="19.80" fill="#000" opacity="0.05"/>
<rect x="73.50" y="301.50" width="13.00" height="3.00" rx="1.50" fill="#000" opacity="0.93"/>
<rect x="89.50" y="301.50" width="13.00" height="3.00" rx="1.50" fill="#000" opacity="0.93"/>
<rect x="105.50" y="301.50" width="13.00" height="3.00" rx="1.50" fill="#000" opacity="0.93"/>
<rect x="120.80" y="301.50" width="13.00" height="3.00" rx="1.50" fill="#000" opacity="0.93"/>
<rect x="74.00" y="307.30" width="12.00" height="2.60" rx="1.30" fill="#000" opacity="0.2"/>
<rect x="90.00" y="307.30" width="12.00" height="2.60" rx="1.30" fill="#000" opacity="0.2"/>
<rect x="106.00" y="307.30" width="12.00" height="2.60" rx="1.30" fill="#000" opacity="0.2"/>
<rect x="121.30" y="307.30" width="12.00" height="2.60" rx="1.30" fill="#000" opacity="0.2"/>

</g></g>
<clipPath id="c12"><rect x="139.5" y="298.7" width="61.099999999999994" height="13.800000000000011"/></clipPath>
<g clip-path="url(#c12)">
<rect x="139.50" y="298.70" width="61.10" height="13.80" fill="#a9a9a9"/>
<g filter="url(#b3)">
<rect x="140.50" y="295.70" width="11.50" height="19.80" fill="#000" opacity="0.05"/>
<rect x="156.00" y="295.70" width="11.50" height="19.80" fill="#000" opacity="0.05"/>
<rect x="171.00" y="295.70" width="12.00" height="19.80" fill="#000" opacity="0.05"/>
<rect x="186.50" y="295.70" width="12.50" height="19.80" fill="#000" opacity="0.05"/>
<rect x="140.00" y="301.65" width="12.50" height="2.70" rx="1.35" fill="#000" opacity="0.92"/>
<rect x="170.50" y="301.65" width="13.00" height="2.70" rx="1.35" fill="#000" opacity="0.92"/>
<rect x="186.00" y="301.65" width="13.50" height="2.70" rx="1.35" fill="#000" opacity="0.92"/>
<rect x="156.00" y="302.10" width="11.50" height="2.20" rx="1.10" fill="#000" opacity="0.88"/>
<rect x="140.50" y="307.00" width="11.50" height="2.40" rx="1.20" fill="#000" opacity="0.18"/>
<rect x="156.00" y="307.00" width="11.50" height="2.40" rx="1.20" fill="#000" opacity="0.18"/>
<rect x="171.00" y="307.00" width="12.00" height="2.40" rx="1.20" fill="#000" opacity="0.18"/>
<rect x="186.50" y="307.00" width="12.50" height="2.40" rx="1.20" fill="#000" opacity="0.18"/>

</g></g>
<line x1="64.5" y1="350.4" x2="208" y2="350.4" stroke="#666" stroke-width="0.5" stroke-dasharray="0.8,0.8"/>
<rect x="69.50" y="350.40" width="10.70" height="58.60" fill="#8a8a8a" stroke="#444" stroke-width="0.6"/>
<rect x="80.20" y="363.29" width="10.70" height="45.71" fill="url(#hatch)" stroke="#444" stroke-width="0.6"/>
<line x1="85.55" y1="363.29200000000003" x2="85.55" y2="358.604" stroke="#333" stroke-width="0.6"/>
<line x1="83.95" y1="358.604" x2="87.14999999999999" y2="358.604" stroke="#333" stroke-width="0.6"/>
<rect x="106.90" y="349.23" width="10.70" height="59.77" fill="#8a8a8a" stroke="#444" stroke-width="0.6"/>
<rect x="117.60" y="368.57" width="10.70" height="40.43" fill="url(#hatch)" stroke="#444" stroke-width="0.6"/>
<line x1="112.25" y1="349.228" x2="112.25" y2="343.368" stroke="#333" stroke-width="0.6"/>
<line x1="110.65" y1="343.368" x2="113.85" y2="343.368" stroke="#333" stroke-width="0.6"/>
<line x1="122.94999999999999" y1="368.56600000000003" x2="122.94999999999999" y2="363.878" stroke="#333" stroke-width="0.6"/>
<line x1="121.35" y1="363.878" x2="124.54999999999998" y2="363.878" stroke="#333" stroke-width="0.6"/>
<rect x="144.30" y="341.02" width="10.70" height="67.98" fill="#8a8a8a" stroke="#444" stroke-width="0.6"/>
<rect x="155.00" y="366.81" width="10.70" height="42.19" fill="url(#hatch)" stroke="#444" stroke-width="0.6"/>
<line x1="149.65" y1="341.024" x2="149.65" y2="338.387" stroke="#333" stroke-width="0.6"/>
<line x1="148.05" y1="338.387" x2="151.25" y2="338.387" stroke="#333" stroke-width="0.6"/>
<line x1="160.35" y1="366.808" x2="160.35" y2="362.12" stroke="#333" stroke-width="0.6"/>
<line x1="158.75" y1="362.12" x2="161.95" y2="362.12" stroke="#333" stroke-width="0.6"/>
<rect x="181.80" y="340.14" width="10.70" height="68.85" fill="#8a8a8a" stroke="#444" stroke-width="0.6"/>
<rect x="192.50" y="368.86" width="10.70" height="40.14" fill="url(#hatch)" stroke="#444" stroke-width="0.6"/>
<line x1="187.15" y1="340.145" x2="187.15" y2="338.387" stroke="#333" stroke-width="0.6"/>
<line x1="185.55" y1="338.387" x2="188.75" y2="338.387" stroke="#333" stroke-width="0.6"/>
<line x1="197.85" y1="368.859" x2="197.85" y2="364.171" stroke="#333" stroke-width="0.6"/>
<line x1="196.25" y1="364.171" x2="199.45" y2="364.171" stroke="#333" stroke-width="0.6"/>
<line x1="64.5" y1="326.66" x2="64.5" y2="409.3" stroke="#333" stroke-width="0.7"/>
<line x1="62.2" y1="409" x2="205" y2="409" stroke="#666" stroke-width="0.6"/>
<line x1="62.0" y1="409.0" x2="64.5" y2="409.0" stroke="#333" stroke-width="0.6"/>
<text x="60.8" y="411.4" font-size="6.6" text-anchor="end" fill="#222" stroke="#222" stroke-width="0.12">0</text>
<line x1="62.0" y1="397.28" x2="64.5" y2="397.28" stroke="#333" stroke-width="0.6"/>
<text x="60.8" y="399.67999999999995" font-size="6.6" text-anchor="end" fill="#222" stroke="#222" stroke-width="0.12">20</text>
<line x1="62.0" y1="385.56" x2="64.5" y2="385.56" stroke="#333" stroke-width="0.6"/>
<text x="60.8" y="387.96" font-size="6.6" text-anchor="end" fill="#222" stroke="#222" stroke-width="0.12">40</text>
<line x1="62.0" y1="373.84000000000003" x2="64.5" y2="373.84000000000003" stroke="#333" stroke-width="0.6"/>
<text x="60.8" y="376.24" font-size="6.6" text-anchor="end" fill="#222" stroke="#222" stroke-width="0.12">60</text>
<line x1="62.0" y1="362.12" x2="64.5" y2="362.12" stroke="#333" stroke-width="0.6"/>
<text x="60.8" y="364.52" font-size="6.6" text-anchor="end" fill="#222" stroke="#222" stroke-width="0.12">80</text>
<line x1="62.0" y1="350.4" x2="64.5" y2="350.4" stroke="#333" stroke-width="0.6"/>
<text x="60.8" y="352.79999999999995" font-size="6.6" text-anchor="end" fill="#222" stroke="#222" stroke-width="0.12">100</text>
<line x1="62.0" y1="338.68" x2="64.5" y2="338.68" stroke="#333" stroke-width="0.6"/>
<text x="60.8" y="341.08" font-size="6.6" text-anchor="end" fill="#222" stroke="#222" stroke-width="0.12">120</text>
<line x1="62.0" y1="326.96000000000004" x2="64.5" y2="326.96000000000004" stroke="#333" stroke-width="0.6"/>
<text x="60.8" y="329.36" font-size="6.6" text-anchor="end" fill="#222" stroke="#222" stroke-width="0.12">140</text>
<text x="80.2" y="420.3" font-size="7" text-anchor="middle" fill="#222" stroke="#222" stroke-width="0.12">0</text>
<text x="117.6" y="420.3" font-size="7" text-anchor="middle" fill="#222" stroke="#222" stroke-width="0.12">90</text>
<text x="155" y="420.3" font-size="7" text-anchor="middle" fill="#222" stroke="#222" stroke-width="0.12">120</text>
<text x="192.5" y="420.3" font-size="7" text-anchor="middle" fill="#222" stroke="#222" stroke-width="0.12">150</text>
<text transform="translate(37.6,367.2) rotate(-90)" font-size="6.1" font-weight="bold" text-anchor="middle" fill="#111" stroke="#111" stroke-width="0.2" textLength="96.5" lengthAdjust="spacingAndGlyphs">Percentage  of phosphorylation</text>
<text transform="translate(45,367.2) rotate(-90)" font-size="6.1" font-weight="bold" text-anchor="middle" fill="#111" stroke="#111" stroke-width="0.2">(Src p-Tyr-416)</text>
<text x="136" y="429" font-size="7.5" text-anchor="middle" fill="#222" stroke="#222" stroke-width="0.12">Time (sec)</text>
<path d="M73.8,327.4 V321.5 H186.5 V328" fill="none" stroke="#333" stroke-width="0.6"/>
<path d="M73.8,338 V329.7 H146.3 Q147.3,329.7 147.3,330.7 V336.6" fill="none" stroke="#333" stroke-width="0.6"/>
<path d="M74.6,349.7 V343.8 H85.4 V358.5" fill="none" stroke="#333" stroke-width="0.6"/>
<path d="M111.5,343.5 V336.2 H123 V364.3" fill="none" stroke="#333" stroke-width="0.6"/>
<path d="M149.2,338 V331.7 H161.2 V362" fill="none" stroke="#333" stroke-width="0.6"/>
<path d="M186.5,338 V331.2 H198 V364.3" fill="none" stroke="#333" stroke-width="0.6"/>
<text x="131" y="321.4" font-size="8" font-weight="bold" text-anchor="middle" fill="#111" stroke="#111" stroke-width="0.35">*</text>
<text x="108.8" y="329.8" font-size="8" font-weight="bold" text-anchor="middle" fill="#111" stroke="#111" stroke-width="0.35">*</text>
<text x="79.5" y="343.9" font-size="8" font-weight="bold" text-anchor="middle" fill="#111" stroke="#111" stroke-width="0.35">*</text>
<text x="117.2" y="336.6" font-size="8" font-weight="bold" text-anchor="middle" fill="#111" stroke="#111" stroke-width="0.35">*</text>
<text x="155.5" y="331.9" font-size="8" font-weight="bold" text-anchor="middle" fill="#111" stroke="#111" stroke-width="0.35">**</text>
<text x="192.7" y="331.9" font-size="8" font-weight="bold" text-anchor="middle" fill="#111" stroke="#111" stroke-width="0.35">**</text>
<text x="249.3" y="288.2" font-size="13" font-weight="bold" text-anchor="start" fill="#000" stroke="#000" stroke-width="0.25">D</text>
<text x="362.4" y="285.8" font-size="6.9" font-weight="bold" text-anchor="middle" fill="#000" stroke="#000" stroke-width="0.25">Non carrier</text>
<text x="429.5" y="285.8" font-size="6.9" font-weight="bold" text-anchor="middle" fill="#000" stroke="#000" stroke-width="0.25">Carrier 276P/326Q</text>
<line x1="332" y1="289.5" x2="391.5" y2="289.5" stroke="#555" stroke-width="0.6"/>
<line x1="397" y1="289.5" x2="458" y2="289.5" stroke="#555" stroke-width="0.6"/>
<text x="337.5" y="298.6" font-size="7" text-anchor="middle" fill="#222" stroke="#222" stroke-width="0.12">0</text>
<text x="354.5" y="298.6" font-size="7" text-anchor="middle" fill="#222" stroke="#222" stroke-width="0.12">90</text>
<text x="369.6" y="298.6" font-size="7" text-anchor="middle" fill="#222" stroke="#222" stroke-width="0.12">120</text>
<text x="385.3" y="298.6" font-size="7" text-anchor="middle" fill="#222" stroke="#222" stroke-width="0.12">150</text>
<text x="403" y="298.6" font-size="7" text-anchor="middle" fill="#222" stroke="#222" stroke-width="0.12">0</text>
<text x="418.9" y="298.6" font-size="7" text-anchor="middle" fill="#222" stroke="#222" stroke-width="0.12">90</text>
<text x="435" y="298.6" font-size="7" text-anchor="middle" fill="#222" stroke="#222" stroke-width="0.12">120</text>
<text x="449.3" y="298.6" font-size="7" text-anchor="middle" fill="#222" stroke="#222" stroke-width="0.12">150</text>
<text x="460.5" y="298.6" font-size="7" text-anchor="start" fill="#222" stroke="#222" stroke-width="0.12">sec</text>
<text x="324.8" y="307" font-size="7" text-anchor="end" fill="#222" stroke="#222" stroke-width="0.12">Lyn p-Tyr-507</text>
<text x="326" y="315.3" font-size="7" text-anchor="end" fill="#222" stroke="#222" stroke-width="0.12">(inhibitory Tyr)</text>
<clipPath id="c13"><rect x="330.5" y="301" width="61.10000000000002" height="13.5"/></clipPath>
<g clip-path="url(#c13)">
<rect x="330.50" y="301.00" width="61.10" height="13.50" fill="#a9a9a9"/>
<g filter="url(#b3)">
<rect x="331.30" y="298.00" width="12.20" height="19.50" fill="#000" opacity="0.05"/>
<rect x="347.00" y="298.00" width="12.00" height="19.50" fill="#000" opacity="0.05"/>
<rect x="363.00" y="298.00" width="12.00" height="19.50" fill="#000" opacity="0.05"/>
<rect x="378.50" y="298.00" width="12.00" height="19.50" fill="#000" opacity="0.05"/>
<rect x="331.30" y="304.00" width="12.20" height="2.00" rx="1.00" fill="#000" opacity="0.5"/>
<rect x="347.00" y="304.30" width="12.00" height="2.00" rx="1.00" fill="#000" opacity="0.45"/>
<rect x="363.00" y="304.80" width="12.00" height="2.00" rx="1.00" fill="#000" opacity="0.4"/>
<rect x="378.50" y="305.40" width="12.00" height="1.80" rx="0.90" fill="#000" opacity="0.28"/>
<rect x="331.30" y="308.60" width="12.20" height="2.40" rx="1.20" fill="#000" opacity="0.9"/>
<rect x="347.00" y="308.90" width="12.00" height="2.40" rx="1.20" fill="#000" opacity="0.88"/>
<rect x="363.00" y="309.45" width="12.00" height="2.30" rx="1.15" fill="#000" opacity="0.8"/>
<rect x="378.50" y="310.20" width="12.00" height="2.00" rx="1.00" fill="#000" opacity="0.6"/>

</g></g>
<clipPath id="c14"><rect x="396.5" y="301" width="61.10000000000002" height="13.5"/></clipPath>
<g clip-path="url(#c14)">
<rect x="396.50" y="301.00" width="61.10" height="13.50" fill="#a9a9a9"/>
<g filter="url(#b3)">
<rect x="397.50" y="298.00" width="12.00" height="19.50" fill="#000" opacity="0.05"/>
<rect x="413.00" y="298.00" width="12.50" height="19.50" fill="#000" opacity="0.05"/>
<rect x="429.00" y="298.00" width="12.50" height="19.50" fill="#000" opacity="0.05"/>
<rect x="444.50" y="298.00" width="12.00" height="19.50" fill="#000" opacity="0.05"/>
<rect x="397.50" y="303.80" width="12.00" height="2.00" rx="1.00" fill="#000" opacity="0.5"/>
<rect x="413.00" y="303.80" width="12.50" height="2.00" rx="1.00" fill="#000" opacity="0.5"/>
<rect x="429.00" y="303.80" width="12.50" height="2.00" rx="1.00" fill="#000" opacity="0.5"/>
<rect x="444.50" y="303.80" width="12.00" height="2.00" rx="1.00" fill="#000" opacity="0.5"/>
<rect x="397.50" y="308.50" width="12.00" height="2.60" rx="1.30" fill="#000" opacity="0.9"/>
<rect x="413.00" y="308.50" width="12.50" height="2.60" rx="1.30" fill="#000" opacity="0.9"/>
<rect x="429.00" y="308.50" width="12.50" height="2.60" rx="1.30" fill="#000" opacity="0.9"/>
<rect x="444.50" y="309.10" width="12.00" height="2.40" rx="1.20" fill="#000" opacity="0.8"/>

</g></g>
<line x1="321" y1="353.4" x2="464" y2="353.4" stroke="#666" stroke-width="0.5" stroke-dasharray="0.8,0.8"/>
<rect x="325.10" y="353.40" width="10.90" height="58.60" fill="#8a8a8a" stroke="#444" stroke-width="0.6"/>
<rect x="336.00" y="345.20" width="10.90" height="66.80" fill="url(#dots)" stroke="#444" stroke-width="0.6"/>
<line x1="341.45" y1="345.196" x2="341.45" y2="337.578" stroke="#333" stroke-width="0.6"/>
<line x1="339.84999999999997" y1="337.578" x2="343.05" y2="337.578" stroke="#333" stroke-width="0.6"/>
<rect x="362.30" y="357.50" width="10.90" height="54.50" fill="#8a8a8a" stroke="#444" stroke-width="0.6"/>
<rect x="373.20" y="343.14" width="10.90" height="68.85" fill="url(#dots)" stroke="#444" stroke-width="0.6"/>
<line x1="367.75" y1="357.502" x2="367.75" y2="351.056" stroke="#333" stroke-width="0.6"/>
<line x1="366.15" y1="351.056" x2="369.35" y2="351.056" stroke="#333" stroke-width="0.6"/>
<line x1="378.65" y1="343.145" x2="378.65" y2="335.82" stroke="#333" stroke-width="0.6"/>
<line x1="377.04999999999995" y1="335.82" x2="380.25" y2="335.82" stroke="#333" stroke-width="0.6"/>
<rect x="399.70" y="359.26" width="10.90" height="52.74" fill="#8a8a8a" stroke="#444" stroke-width="0.6"/>
<rect x="410.60" y="355.45" width="10.90" height="56.55" fill="url(#dots)" stroke="#444" stroke-width="0.6"/>
<line x1="405.15000000000003" y1="359.26" x2="405.15000000000003" y2="351.056" stroke="#333" stroke-width="0.6"/>
<line x1="403.55" y1="351.056" x2="406.75000000000006" y2="351.056" stroke="#333" stroke-width="0.6"/>
<line x1="416.05" y1="355.451" x2="416.05" y2="349.884" stroke="#333" stroke-width="0.6"/>
<line x1="414.45" y1="349.884" x2="417.65000000000003" y2="349.884" stroke="#333" stroke-width="0.6"/>
<rect x="437.10" y="359.26" width="10.90" height="52.74" fill="#8a8a8a" stroke="#444" stroke-width="0.6"/>
<rect x="448.00" y="358.09" width="10.90" height="53.91" fill="url(#dots)" stroke="#444" stroke-width="0.6"/>
<line x1="442.55" y1="359.26" x2="442.55" y2="348.126" stroke="#333" stroke-width="0.6"/>
<line x1="440.95" y1="348.126" x2="444.15000000000003" y2="348.126" stroke="#333" stroke-width="0.6"/>
<line x1="453.45" y1="358.088" x2="453.45" y2="353.4" stroke="#333" stroke-width="0.6"/>
<line x1="451.84999999999997" y1="353.4" x2="455.05" y2="353.4" stroke="#333" stroke-width="0.6"/>
<line x1="321" y1="329.66" x2="321" y2="412.3" stroke="#333" stroke-width="0.7"/>
<line x1="318.7" y1="412" x2="464" y2="412" stroke="#666" stroke-width="0.6"/>
<line x1="318.5" y1="412.0" x2="321" y2="412.0" stroke="#333" stroke-width="0.6"/>
<text x="317.3" y="414.4" font-size="6.6" text-anchor="end" fill="#222" stroke="#222" stroke-width="0.12">0</text>
<line x1="318.5" y1="400.28" x2="321" y2="400.28" stroke="#333" stroke-width="0.6"/>
<text x="317.3" y="402.67999999999995" font-size="6.6" text-anchor="end" fill="#222" stroke="#222" stroke-width="0.12">20</text>
<line x1="318.5" y1="388.56" x2="321" y2="388.56" stroke="#333" stroke-width="0.6"/>
<text x="317.3" y="390.96" font-size="6.6" text-anchor="end" fill="#222" stroke="#222" stroke-width="0.12">40</text>
<line x1="318.5" y1="376.84000000000003" x2="321" y2="376.84000000000003" stroke="#333" stroke-width="0.6"/>
<text x="317.3" y="379.24" font-size="6.6" text-anchor="end" fill="#222" stroke="#222" stroke-width="0.12">60</text>
<line x1="318.5" y1="365.12" x2="321" y2="365.12" stroke="#333" stroke-width="0.6"/>
<text x="317.3" y="367.52" font-size="6.6" text-anchor="end" fill="#222" stroke="#222" stroke-width="0.12">80</text>
<line x1="318.5" y1="353.4" x2="321" y2="353.4" stroke="#333" stroke-width="0.6"/>
<text x="317.3" y="355.79999999999995" font-size="6.6" text-anchor="end" fill="#222" stroke="#222" stroke-width="0.12">100</text>
<line x1="318.5" y1="341.68" x2="321" y2="341.68" stroke="#333" stroke-width="0.6"/>
<text x="317.3" y="344.08" font-size="6.6" text-anchor="end" fill="#222" stroke="#222" stroke-width="0.12">120</text>
<line x1="318.5" y1="329.96000000000004" x2="321" y2="329.96000000000004" stroke="#333" stroke-width="0.6"/>
<text x="317.3" y="332.36" font-size="6.6" text-anchor="end" fill="#222" stroke="#222" stroke-width="0.12">140</text>
<text x="336" y="420.6" font-size="7" text-anchor="middle" fill="#222" stroke="#222" stroke-width="0.12">0</text>
<text x="373.2" y="420.6" font-size="7" text-anchor="middle" fill="#222" stroke="#222" stroke-width="0.12">90</text>
<text x="410.6" y="420.6" font-size="7" text-anchor="middle" fill="#222" stroke="#222" stroke-width="0.12">120</text>
<text x="448" y="420.6" font-size="7" text-anchor="middle" fill="#222" stroke="#222" stroke-width="0.12">150</text>
<text transform="translate(293.3,369.8) rotate(-90)" font-size="6.1" font-weight="bold" text-anchor="middle" fill="#111" stroke="#111" stroke-width="0.2" textLength="98.5" lengthAdjust="spacingAndGlyphs">Percentage  of phosphorylation</text>
<text transform="translate(300.8,369.8) rotate(-90)" font-size="6.1" font-weight="bold" text-anchor="middle" fill="#111" stroke="#111" stroke-width="0.2">(Lyn p-Tyr-507)</text>
<text x="392.5" y="429.7" font-size="7.5" text-anchor="middle" fill="#222" stroke="#222" stroke-width="0.12">Time (sec)</text>
</svg></body></html>
